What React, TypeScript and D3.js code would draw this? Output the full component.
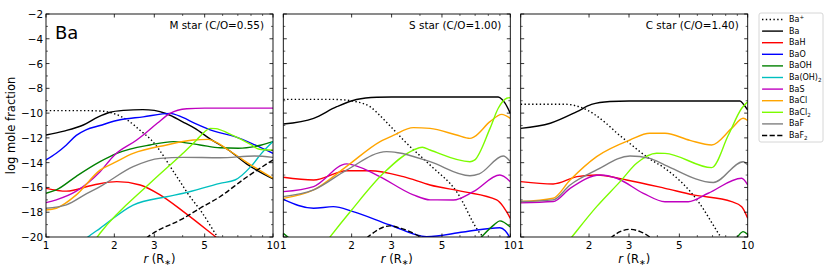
import * as d3 from "d3";

type Pt = [number, number];

// species shown in the legend, in order
const species = ["Ba+", "Ba", "BaH", "BaO", "BaOH", "Ba(OH)2", "BaS", "BaCl", "BaCl2", "BaF", "BaF2"];
const colors = ["#000000", "#000000", "#ff0000", "#0000ff", "#008000", "#00bfbf", "#bf00bf", "#ffa500", "#7cfc00", "#808080", "#000000"];
const dashes = ["1.4,2.4", "", "", "", "", "", "", "", "", "", "5.2,2.4"];

const panelTitles = ["M star (C/O=0.55)", "S star (C/O=1.00)", "C star (C/O=1.40)"];
const xTicks = [1, 2, 3, 5, 10];
const xMinor = [4, 6, 7, 8, 9];
const yTicks = [-20, -18, -16, -14, -12, -10, -8, -6, -4, -2];
const yMinor = [-19, -17, -15, -13, -11, -9, -7, -5, -3];

// M star: log mole fraction vs r (R*)
const mStar: Record<string, Pt[]> = {
  "Ba+": [[1, -9.8], [1.5, -9.8], [1.8, -9.85], [2.0, -10.05], [2.3, -10.6], [2.6, -11.4], [2.92, -12.2], [3.76, -15.1], [4.31, -16.75], [4.77, -17.8], [5.7, -20], [6.2, -21]],
  Ba: [[1, -11.77], [1.2, -11.45], [1.46, -10.96], [1.7, -10.3], [1.9, -9.95], [2.2, -9.78], [2.67, -9.72], [3.0, -9.78], [3.4, -10.05], [4.0, -10.7], [4.53, -11.23], [5.3, -12.1], [6.36, -12.98], [7.8, -14.2], [10, -15.3]],
  BaH: [[1, -16.07], [1.23, -16.3], [1.62, -15.8], [2.05, -15.53], [2.6, -15.8], [3.18, -16.6], [4.03, -17.95], [5.46, -19.84], [5.6, -20], [6.5, -20.8]],
  BaO: [[1, -13.78], [1.11, -13.24], [1.23, -12.57], [1.36, -11.8], [1.5, -11.35], [1.73, -11.0], [2.05, -10.6], [2.68, -10.3], [3.52, -10.02], [4.0, -10.35], [4.53, -10.82], [5.5, -11.45], [6.8, -11.9], [8.33, -12.57], [10, -13.25]],
  BaOH: [[1, -16.47], [1.11, -16.2], [1.36, -15.1], [1.73, -13.92], [2.05, -13.25], [2.87, -12.57], [3.64, -12.3], [4.77, -12.57], [5.84, -12.8], [7.03, -12.84], [8.9, -12.57], [10, -12.3]],
  "Ba(OH)2": [[1.4, -20.6], [1.53, -20], [1.73, -19.3], [2.42, -17.42], [3.4, -16.75], [4.03, -16.47], [5.84, -15.67], [6.8, -15.4], [8.0, -14.3], [8.9, -13.25], [10, -12.3]],
  BaS: [[1, -17.23], [1.11, -17.0], [1.36, -16.3], [1.73, -14.73], [2, -13.4], [2.51, -12.17], [2.75, -11.6], [3.1, -10.8], [3.52, -10.02], [4.17, -9.65], [5, -9.6], [10, -9.6]],
  BaCl: [[1, -17.82], [1.11, -17.68], [1.36, -16.6], [1.73, -14.6], [2.0, -14.0], [2.42, -13.25], [3.4, -12.57], [4.46, -12.17], [5.19, -12.12], [5.6, -12.35], [6.36, -12.98], [7.78, -14.05], [10, -15.26]],
  BaCl2: [[1.55, -20.9], [1.73, -19.7], [2.87, -15.67], [4.0, -13.26], [4.61, -12.17], [5.0, -11.5], [5.28, -11.23], [5.6, -11.25], [6.36, -11.63], [8.05, -12.57], [8.62, -12.9], [10, -13.0]],
  BaF: [[1, -17.68], [1.23, -17.4], [1.51, -16.5], [1.73, -15.93], [2.42, -14.32], [3.18, -13.65], [4.03, -13.57], [5.84, -13.6], [8.3, -13.46], [10, -13.57]],
  BaF2: [[2.6, -20.5], [2.82, -19.97], [4.03, -18.49], [4.77, -17.68], [5.84, -16.75], [7.53, -15.26], [10, -13.78]],
};

// S star
const sStar: Record<string, Pt[]> = {
  "Ba+": [[1, -8.89], [1.6, -8.89], [1.9, -8.95], [2.1, -9.08], [2.41, -9.48], [2.7, -10.3], [3.05, -11.3], [3.38, -12.17], [4.43, -14.19], [5.8, -16.34], [7.35, -19.7], [7.6, -20], [8.2, -21]],
  Ba: [[1, -10.88], [1.36, -10.42], [1.72, -9.48], [2.1, -8.9], [2.58, -8.72], [3, -8.7], [8.85, -8.7], [9.2, -8.9], [9.48, -9.2], [10, -10.02]],
  BaH: [[1, -15.18], [1.36, -15.4], [1.9, -14.65], [2.41, -14.65], [3.38, -15.13], [4.43, -15.8], [6.21, -16.34], [8.71, -17.01], [9.31, -17.55], [10, -18.49]],
  BaO: [[1, -16.96], [1.36, -17.68], [1.66, -17.55], [2.03, -17.95], [2.95, -19.03], [4.28, -19.97], [6.21, -19.6], [9.0, -19.25], [9.5, -19.5], [10, -20.1]],
  BaOH: [[1, -19.7], [1.08, -20.2], [5, NaN], [7.2, -20.3], [7.46, -20], [8.5, -19.0], [9.0, -18.7], [10, -19.2]],
  "Ba(OH)2": [],
  BaS: [[1, -16.34], [1.36, -15.93], [1.9, -14.1], [2.58, -15.0], [3.74, -16.6], [4.43, -17.0], [5.61, -17.01], [6.87, -16.34], [9.0, -15.0], [10, -15.53]],
  BaCl: [[1, -16.88], [1.36, -16.2], [1.9, -14.3], [2.67, -12.3], [3.05, -11.8], [3.74, -11.17], [4.43, -11.23], [5.8, -11.77], [6.64, -12.04], [6.95, -11.9], [8.14, -10.69], [9.17, -10.1], [10, -10.42]],
  BaCl2: [[1.5, -20.7], [1.61, -19.97], [2.0, -17.82], [2.76, -14.86], [3.74, -12.98], [4.1, -12.76], [4.43, -12.98], [6.64, -13.92], [6.95, -13.8], [8.14, -11.23], [8.85, -9.61], [9.64, -8.8], [10, -8.75]],
  BaF: [[1, -16.74], [1.36, -16.2], [1.9, -14.6], [2.85, -13.11], [3.2, -13.2], [4.43, -13.92], [6.64, -15.05], [7.3, -14.9], [9.31, -13.46], [10, -13.92]],
  BaF2: [[2.2, -20.5], [2.37, -19.97], [2.95, -19.1], [3.3, -19.3], [3.87, -19.84], [4.0, -20], [4.2, -20.4]],
};

// C star
const cStar: Record<string, Pt[]> = {
  "Ba+": [[1, -9.29], [1.58, -9.29], [1.88, -9.6], [2.38, -10.82], [2.65, -11.6], [3.0, -12.4], [3.7, -13.7], [4.32, -14.46], [6.06, -17.15], [7.42, -19.7], [7.6, -20], [8, -21]],
  Ba: [[1, -11.23], [1.35, -10.82], [1.77, -9.88], [2.05, -9.3], [2.47, -9.06], [3, -9.02], [9.25, -9.02], [9.6, -9.3], [10, -9.75]],
  BaH: [[1, -15.53], [1.39, -15.72], [1.77, -15.13], [2.16, -14.99], [2.93, -15.4], [4.32, -16.07], [5.75, -16.6], [8.5, -17.15], [9.41, -17.55], [10, -18.49]],
  BaO: [],
  BaOH: [[8.7, -20.3], [9.0, -20], [9.55, -19.57], [10, -19.8]],
  "Ba(OH)2": [],
  BaS: [[1, -17.23], [1.39, -17.14], [1.65, -16.07], [2.24, -14.99], [2.65, -15.26], [3.47, -16.47], [4.32, -17.15], [5.47, -17.15], [6.7, -16.47], [9.41, -15.26], [10, -15.8]],
  BaCl: [[1, -17.14], [1.39, -16.87], [1.65, -15.4], [2.16, -13.51], [3.03, -12.17], [3.7, -11.63], [4.32, -11.63], [5.57, -12.2], [6.94, -12.57], [8.5, -11.23], [9.55, -10.42], [10, -10.6]],
  BaCl2: [[1.55, -20.8], [1.68, -20], [2.16, -17.55], [2.74, -15.53], [3.24, -14.05], [3.97, -13.24], [4.32, -13.25], [6.94, -14.4], [8.22, -11.77], [9.41, -9.61], [10, -9.08]],
  BaF: [[1, -17.14], [1.39, -17.0], [1.65, -15.8], [2.16, -14.59], [3.03, -13.46], [3.7, -13.65], [4.32, -14.19], [7.06, -15.6], [9.55, -13.92], [10, -14.2]],
  BaF2: [[2.35, -20.5], [2.52, -20], [2.74, -19.57], [3.03, -19.38], [3.36, -19.57], [3.7, -20], [3.9, -20.4]],
};

const panelData = [mStar, sStar, cStar];

const W = 830;
const H = 270;
const panelLefts = [46, 283.3, 520.7];
const panelW = 227;
const top = 14;
const bottom = 237;
const font = "DejaVu Sans, sans-serif";

function Label({ name, x, y, size }: { name: string; x: number; y: number; size: number }) {
  // chemical formula with sub/superscripts
  const m = name.match(/^(.*?)([0-9+]?)$/);
  const base = m ? m[1] : name;
  const suf = m ? m[2] : "";
  return (
    <text x={x} y={y} fontSize={size} fontFamily={font} dominantBaseline="central">
      {base}
      {suf === "+" && (
        <tspan fontSize={size * 0.7} dy={-size * 0.35}>+</tspan>
      )}
      {suf !== "" && suf !== "+" && (
        <tspan fontSize={size * 0.7} dy={size * 0.3}>{suf}</tspan>
      )}
    </text>
  );
}

function Panel({ idx }: { idx: number }) {
  const left = panelLefts[idx];
  const x = d3.scaleLog().domain([1, 10]).range([left, left + panelW]);
  const y = d3.scaleLinear().domain([-20, -2]).range([bottom, top]);
  const line = d3
    .line<Pt>()
    .defined((d) => !isNaN(d[1]))
    .x((d) => x(d[0]))
    .y((d) => y(d[1]))
    .curve(d3.curveMonotoneX);
  const data = panelData[idx];
  const clipId = `clip${idx}`;

  return (
    <g>
      <defs>
        <clipPath id={clipId}>
          <rect x={left} y={top} width={panelW} height={bottom - top} />
        </clipPath>
      </defs>
      <g clipPath={`url(#${clipId})`}>
        {species.map((s, i) =>
          data[s] && data[s].length > 0 ? (
            <path
              key={s}
              d={line(data[s]) ?? ""}
              fill="none"
              stroke={colors[i]}
              strokeWidth={1.4}
              strokeDasharray={dashes[i] || undefined}
            />
          ) : null
        )}
      </g>
      {/* ticks, inward on all sides */}
      {xTicks.map((t) => (
        <g key={`xt${t}`}>
          <line x1={x(t)} x2={x(t)} y1={bottom} y2={bottom - 3.5} stroke="#000" strokeWidth={0.8} />
          <line x1={x(t)} x2={x(t)} y1={top} y2={top + 3.5} stroke="#000" strokeWidth={0.8} />
          <text x={x(t)} y={245} fontSize={10.4} fontFamily={font} textAnchor="middle" dominantBaseline="central">
            {t}
          </text>
        </g>
      ))}
      {xMinor.map((t) => (
        <g key={`xm${t}`}>
          <line x1={x(t)} x2={x(t)} y1={bottom} y2={bottom - 2} stroke="#000" strokeWidth={0.6} />
          <line x1={x(t)} x2={x(t)} y1={top} y2={top + 2} stroke="#000" strokeWidth={0.6} />
        </g>
      ))}
      {yTicks.map((t) => (
        <g key={`yt${t}`}>
          <line x1={left} x2={left + 3.5} y1={y(t)} y2={y(t)} stroke="#000" strokeWidth={0.8} />
          <line x1={left + panelW} x2={left + panelW - 3.5} y1={y(t)} y2={y(t)} stroke="#000" strokeWidth={0.8} />
          {idx === 0 && (
            <text x={left - 3} y={y(t)} fontSize={10.4} fontFamily={font} textAnchor="end" dominantBaseline="central">
              {`\u2212${Math.abs(t)}`}
            </text>
          )}
        </g>
      ))}
      {yMinor.map((t) => (
        <g key={`ym${t}`}>
          <line x1={left} x2={left + 2} y1={y(t)} y2={y(t)} stroke="#000" strokeWidth={0.6} />
          <line x1={left + panelW} x2={left + panelW - 2} y1={y(t)} y2={y(t)} stroke="#000" strokeWidth={0.6} />
        </g>
      ))}
      <rect x={left} y={top} width={panelW} height={bottom - top} fill="none" stroke="#000" strokeWidth={0.9} />
      <text x={left + panelW - 9} y={29} fontSize={10.4} fontFamily={font} textAnchor="end">
        {panelTitles[idx]}
      </text>
      {idx === 0 && (
        <text x={left + 9} y={38.5} fontSize={18} fontFamily={font}>
          Ba
        </text>
      )}
      <text x={left + panelW / 2} y={263} fontSize={11.5} fontFamily={font} textAnchor="middle">
        <tspan fontStyle="italic">r</tspan>
        {" (R"}
        <tspan fontSize={8} dy={2}>∗</tspan>
        <tspan dy={-2}>)</tspan>
      </text>
    </g>
  );
}

function Legend() {
  const lx = 759;
  const ly = 13;
  const rowH = 11.6;
  return (
    <g>
      <rect x={lx} y={ly} width={64} height={129} rx={2} fill="#fff" stroke="#cccccc" strokeWidth={0.8} />
      {species.map((s, i) => {
        const yy = 19.5 + i * rowH;
        return (
          <g key={s}>
            <line
              x1={762}
              x2={783}
              y1={yy}
              y2={yy}
              stroke={colors[i]}
              strokeWidth={1.4}
              strokeDasharray={dashes[i] || undefined}
            />
            <Label name={s} x={789} y={yy} size={8} />
          </g>
        );
      })}
    </g>
  );
}

export default function App() {
  return (
    <svg
      width={W}
      height={H}
      viewBox={`0 0 ${W} ${H}`}
      style={{ position: "absolute", left: 0, top: 0, background: "#fff" }}
    >
      <rect width={W} height={H} fill="#fff" />
      {[0, 1, 2].map((i) => (
        <Panel key={i} idx={i} />
      ))}
      <text
        transform={`translate(11,${(top + bottom) / 2}) rotate(-90)`}
        fontSize={11.5}
        fontFamily={font}
        textAnchor="middle"
        dominantBaseline="central"
      >
        log mole fraction
      </text>
      <Legend />
    </svg>
  );
}
